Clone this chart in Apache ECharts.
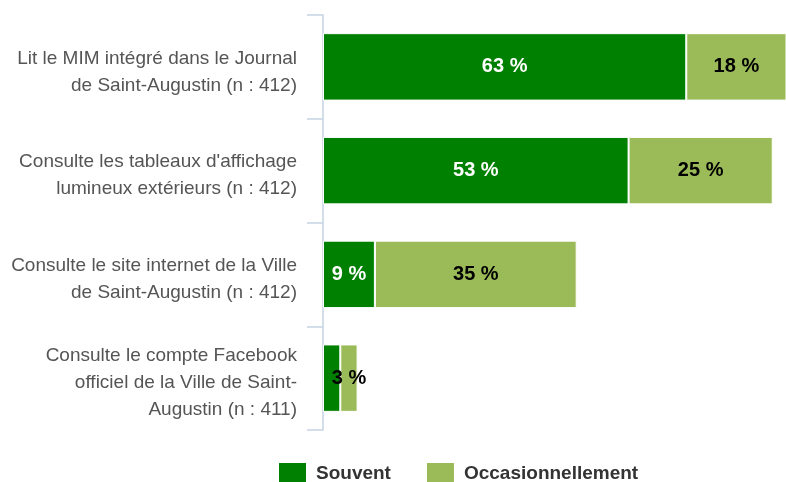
<!DOCTYPE html>
<html>
<head>
<meta charset="utf-8">
<script src="https://cdn.jsdelivr.net/npm/echarts@6/dist/echarts.min.js"></script>
<style>
  html, body { margin: 0; padding: 0; background: #fff; }
  #chart { width: 786px; height: 482px; }
</style>
</head>
<body>
<div id="chart"></div>
<script>
var categories = [
    "Lit le MIM intégré dans le Journal\nde Saint-Augustin (n : 412)",
    "Consulte les tableaux d'affichage\nlumineux extérieurs (n : 412)",
    "Consulte le site internet de la Ville\nde Saint-Augustin (n : 412)",
    "Consulte le compte Facebook\nofficiel de la Ville de Saint-\nAugustin (n : 411)"
];
var souvent = [63, 53, 9, 3];
var occasionnellement = [18, 25, 35, 3];

var font = "'Liberation Sans', Arial, Helvetica, sans-serif";

var chart = echarts.init(document.getElementById('chart'), null, { renderer: 'canvas' });

// le libellé de la petite barre verte est masqué (trop étroit)
var souventData = souvent.map(function (v) {
    return v < 5 ? { value: v, label: { show: false } } : v;
});

chart.setOption({
    animation: false,
    textStyle: { fontFamily: font },
    grid: { left: 323, right: 0, top: 15, bottom: 52, containLabel: false },
    xAxis: {
        type: 'value',
        min: 0,
        max: 80.3,
        show: false
    },
    yAxis: {
        type: 'category',
        data: categories,
        inverse: true,
        axisLine: { show: true, lineStyle: { color: '#c5d3e3', width: 1.5 } },
        axisTick: { show: true, length: 16, lineStyle: { color: '#c5d3e3', width: 1.5 } },
        axisLabel: {
            margin: 26,
            color: '#555',
            fontSize: 19,
            lineHeight: 27,
            fontFamily: font,
            align: 'right',
            // petite ligne vide au-dessus pour descendre le texte de quelques pixels
            formatter: function (v) { return '{s|}\n' + v; },
            rich: { s: { lineHeight: 10, fontSize: 1 } }
        },
        splitLine: { show: false }
    },
    legend: {
        top: 461,
        left: 277,
        padding: 0,
        itemWidth: 29,
        itemHeight: 24,
        itemGap: 34,
        icon: 'rect',
        textStyle: { color: '#333', fontSize: 19, fontWeight: 'bold', fontFamily: font, padding: [2, 0, 0, 4] },
        data: ['Souvent', 'Occasionnellement']
    },
    series: [
        {
            name: 'Souvent',
            type: 'bar',
            stack: 'total',
            barCategoryGap: '35%',
            data: souventData,
            itemStyle: { color: '#008000', borderColor: '#fff', borderWidth: 1 },
            label: {
                show: true,
                position: 'inside',
                formatter: '{c} %',
                color: '#fff',
                fontSize: 20,
                fontWeight: 'bold',
                fontFamily: font
            }
        },
        {
            name: 'Occasionnellement',
            type: 'bar',
            stack: 'total',
            data: occasionnellement,
            itemStyle: { color: '#9bbb59', borderColor: '#fff', borderWidth: 1 },
            label: {
                show: true,
                position: 'inside',
                formatter: '{c} %',
                color: '#000',
                fontSize: 20,
                fontWeight: 'bold',
                fontFamily: font
            }
        }
    ]
});
</script>
</body>
</html>
